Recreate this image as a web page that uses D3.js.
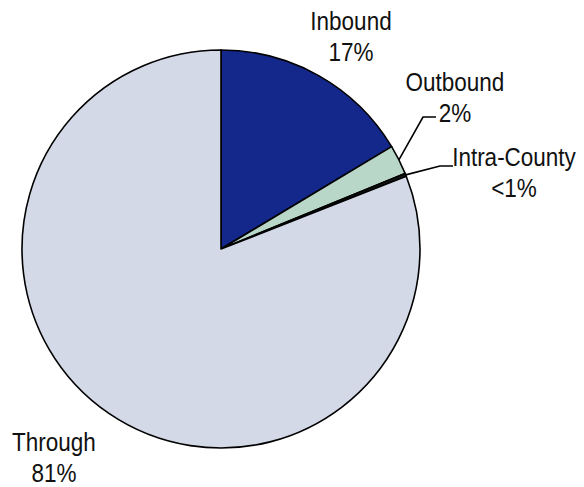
<!DOCTYPE html>
<html>
<head>
<meta charset="utf-8">
<script src="https://cdn.jsdelivr.net/npm/d3@7"></script>
<style>
  html, body { margin: 0; padding: 0; background: #ffffff; }
  svg { display: block; }
  text { font-family: "Liberation Sans", Arial, sans-serif; fill: #111; }
</style>
</head>
<body>
<svg id="chart" width="584" height="487"></svg>
<script>
// ---- data ----
const categories = ["Inbound", "Outbound", "Intra-County", "Through"];
const values = [16.4, 2.4, 0.25, 80.95];
const valueLabels = ["17%", "2%", "<1%", "81%"];
const colors = ["#13288a", "#b9d7c8", "#1a1a1a", "#d3d9e7"];

// ---- layout ----
const W = 584, H = 487;
const cx = 221, cy = 249, R = 199;
// label anchor (center x, first baseline y), leader elbow/end (null = no leader)
const labelLayout = [
  { x: 351, y: 30, leader: null },
  { x: 455, y: 91, leader: { elbow: [423, 117], end: [436, 117] } },
  { x: 514, y: 166, leader: { elbow: [440, 166], end: [453, 166] } },
  { x: 54, y: 451, leader: null }
];
const lineGap = 31;
const squeeze = 0.9;

const svg = d3.select("#chart");
const g = svg.append("g").attr("transform", `translate(${cx},${cy})`);

const pie = d3.pie().sort(null).value(d => d.v);
const data = categories.map((c, i) => ({ c, v: values[i], i }));
const arcs = pie(data);
const arc = d3.arc().innerRadius(0).outerRadius(R);

g.selectAll("path.slice")
  .data(arcs)
  .enter().append("path")
  .attr("class", "slice")
  .attr("d", arc)
  .attr("fill", d => colors[d.data.i])
  .attr("stroke", "#000")
  .attr("stroke-width", 1.6)
  .attr("stroke-linejoin", "round");

// leader lines
arcs.forEach((a, i) => {
  const lay = labelLayout[i];
  if (!lay.leader) return;
  const mid = (a.startAngle + a.endAngle) / 2;
  const sx = cx + R * Math.sin(mid);
  const sy = cy - R * Math.cos(mid);
  svg.append("polyline")
    .attr("points", [[sx, sy], lay.leader.elbow, lay.leader.end].map(p => p.join(",")).join(" "))
    .attr("fill", "none")
    .attr("stroke", "#000")
    .attr("stroke-width", 1.6);
});

// labels
categories.forEach((c, i) => {
  const lay = labelLayout[i];
  const t = svg.append("text")
    .attr("text-anchor", "middle")
    .attr("font-size", 25)
    .attr("transform", `translate(${lay.x},${lay.y}) scale(${squeeze},1)`);
  t.append("tspan").attr("x", 0).attr("y", 0).text(c);
  t.append("tspan").attr("x", 0).attr("y", lineGap).text(valueLabels[i]);
});
</script>
</body>
</html>
